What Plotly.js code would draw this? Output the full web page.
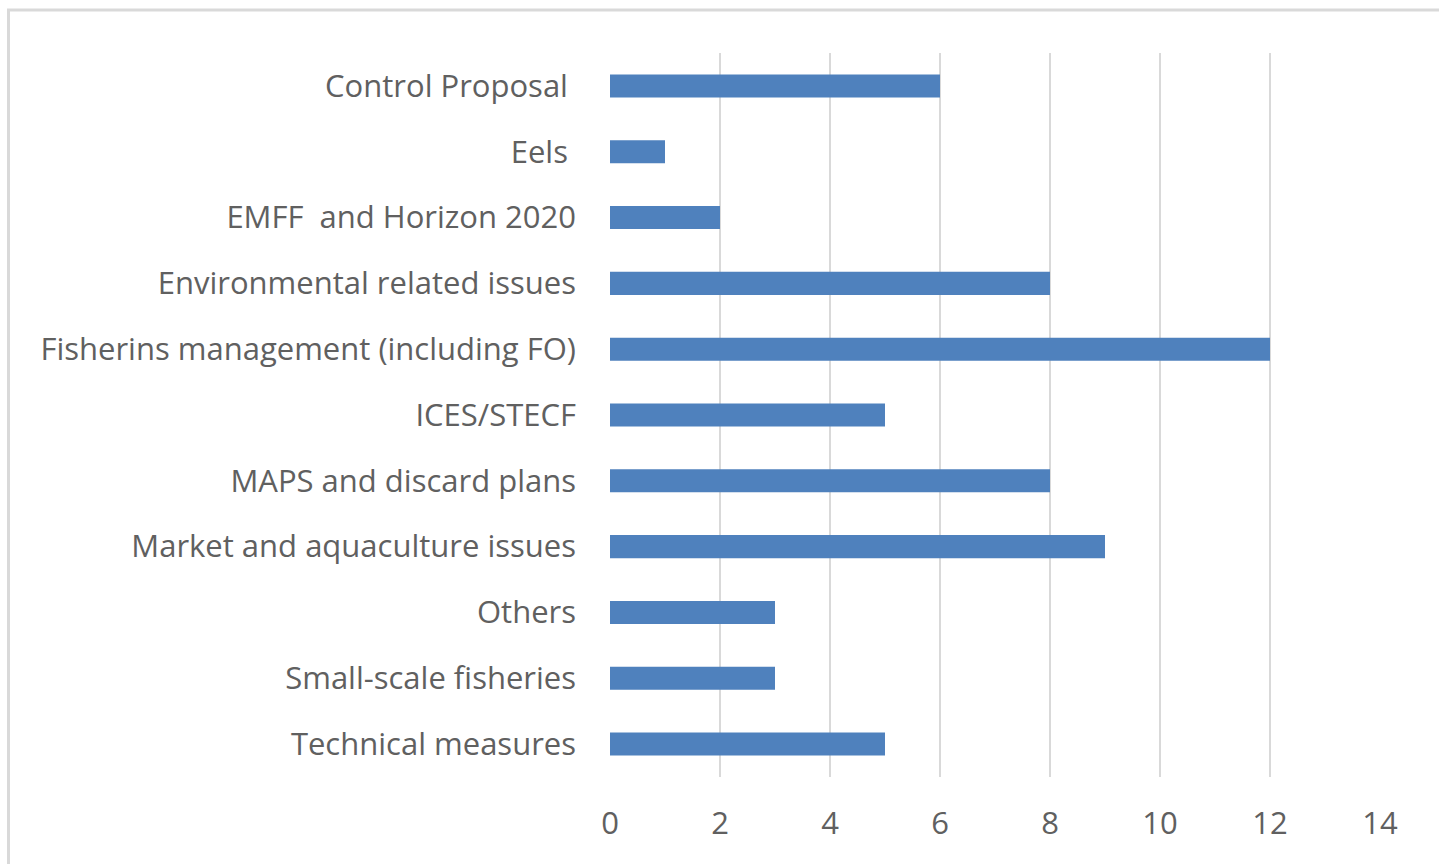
<!DOCTYPE html>
<html>
<head>
<meta charset="utf-8">
<script src="https://cdn.plot.ly/plotly-3.0.1.min.js"></script>
<style>
html,body{margin:0;padding:0;background:#fff;}
#chart{width:1439px;height:864px;}
</style>
</head>
<body>
<div id="chart"></div>
<script>
const categories = [
  "Control Proposal\u00a0",
  "Eels\u00a0",
  "EMFF\u00a0 and Horizon 2020",
  "Environmental related issues",
  "Fisherins management (including FO)",
  "ICES/STECF",
  "MAPS and discard plans",
  "Market and aquaculture issues",
  "Others",
  "Small-scale fisheries",
  "Technical measures"
];
const values = [6, 1, 2, 8, 12, 5, 8, 9, 3, 3, 5];
const xTicks = [0, 2, 4, 6, 8, 10, 12, 14];

const trace = {
  type: 'bar',
  orientation: 'h',
  y: categories,
  x: values,
  marker: {color: '#4f81bd', line: {width: 0}},
  hoverinfo: 'x+y'
};

const font = {family: '"Open Sans", Lato, sans-serif', size: 31, color: '#606060'};

const layout = {
  width: 1439,
  height: 864,
  margin: {l: 610, r: 59, t: 53, b: 87},
  paper_bgcolor: '#ffffff',
  plot_bgcolor: '#ffffff',
  bargap: 0.65,
  showlegend: false,
  font: font,
  xaxis: {
    range: [0, 14],
    tickvals: xTicks,
    ticktext: xTicks.map(String),
    showgrid: true,
    gridcolor: '#d9d9d9',
    gridwidth: 2,
    zeroline: false,
    showline: false,
    ticks: '',
    ticklabelstandoff: 25,
    tickfont: font,
    fixedrange: true
  },
  yaxis: {
    type: 'category',
    categoryorder: 'array',
    categoryarray: categories,
    autorange: 'reversed',
    showgrid: false,
    zeroline: false,
    showline: false,
    ticks: '',
    ticklabelstandoff: 33,
    tickfont: font,
    fixedrange: true
  },
  shapes: [{
    type: 'rect',
    xref: 'paper', yref: 'paper',
    x0: (8.5 - 610) / 770, x1: (1460 - 610) / 770,
    y0: (777 - 890) / 724, y1: 1 + (53 - 10) / 724,
    line: {color: '#d9d9d9', width: 3},
    fillcolor: 'rgba(0,0,0,0)',
    layer: 'below'
  }]
};

Plotly.newPlot('chart', [trace], layout, {displayModeBar: false, staticPlot: true});
</script>
</body>
</html>
